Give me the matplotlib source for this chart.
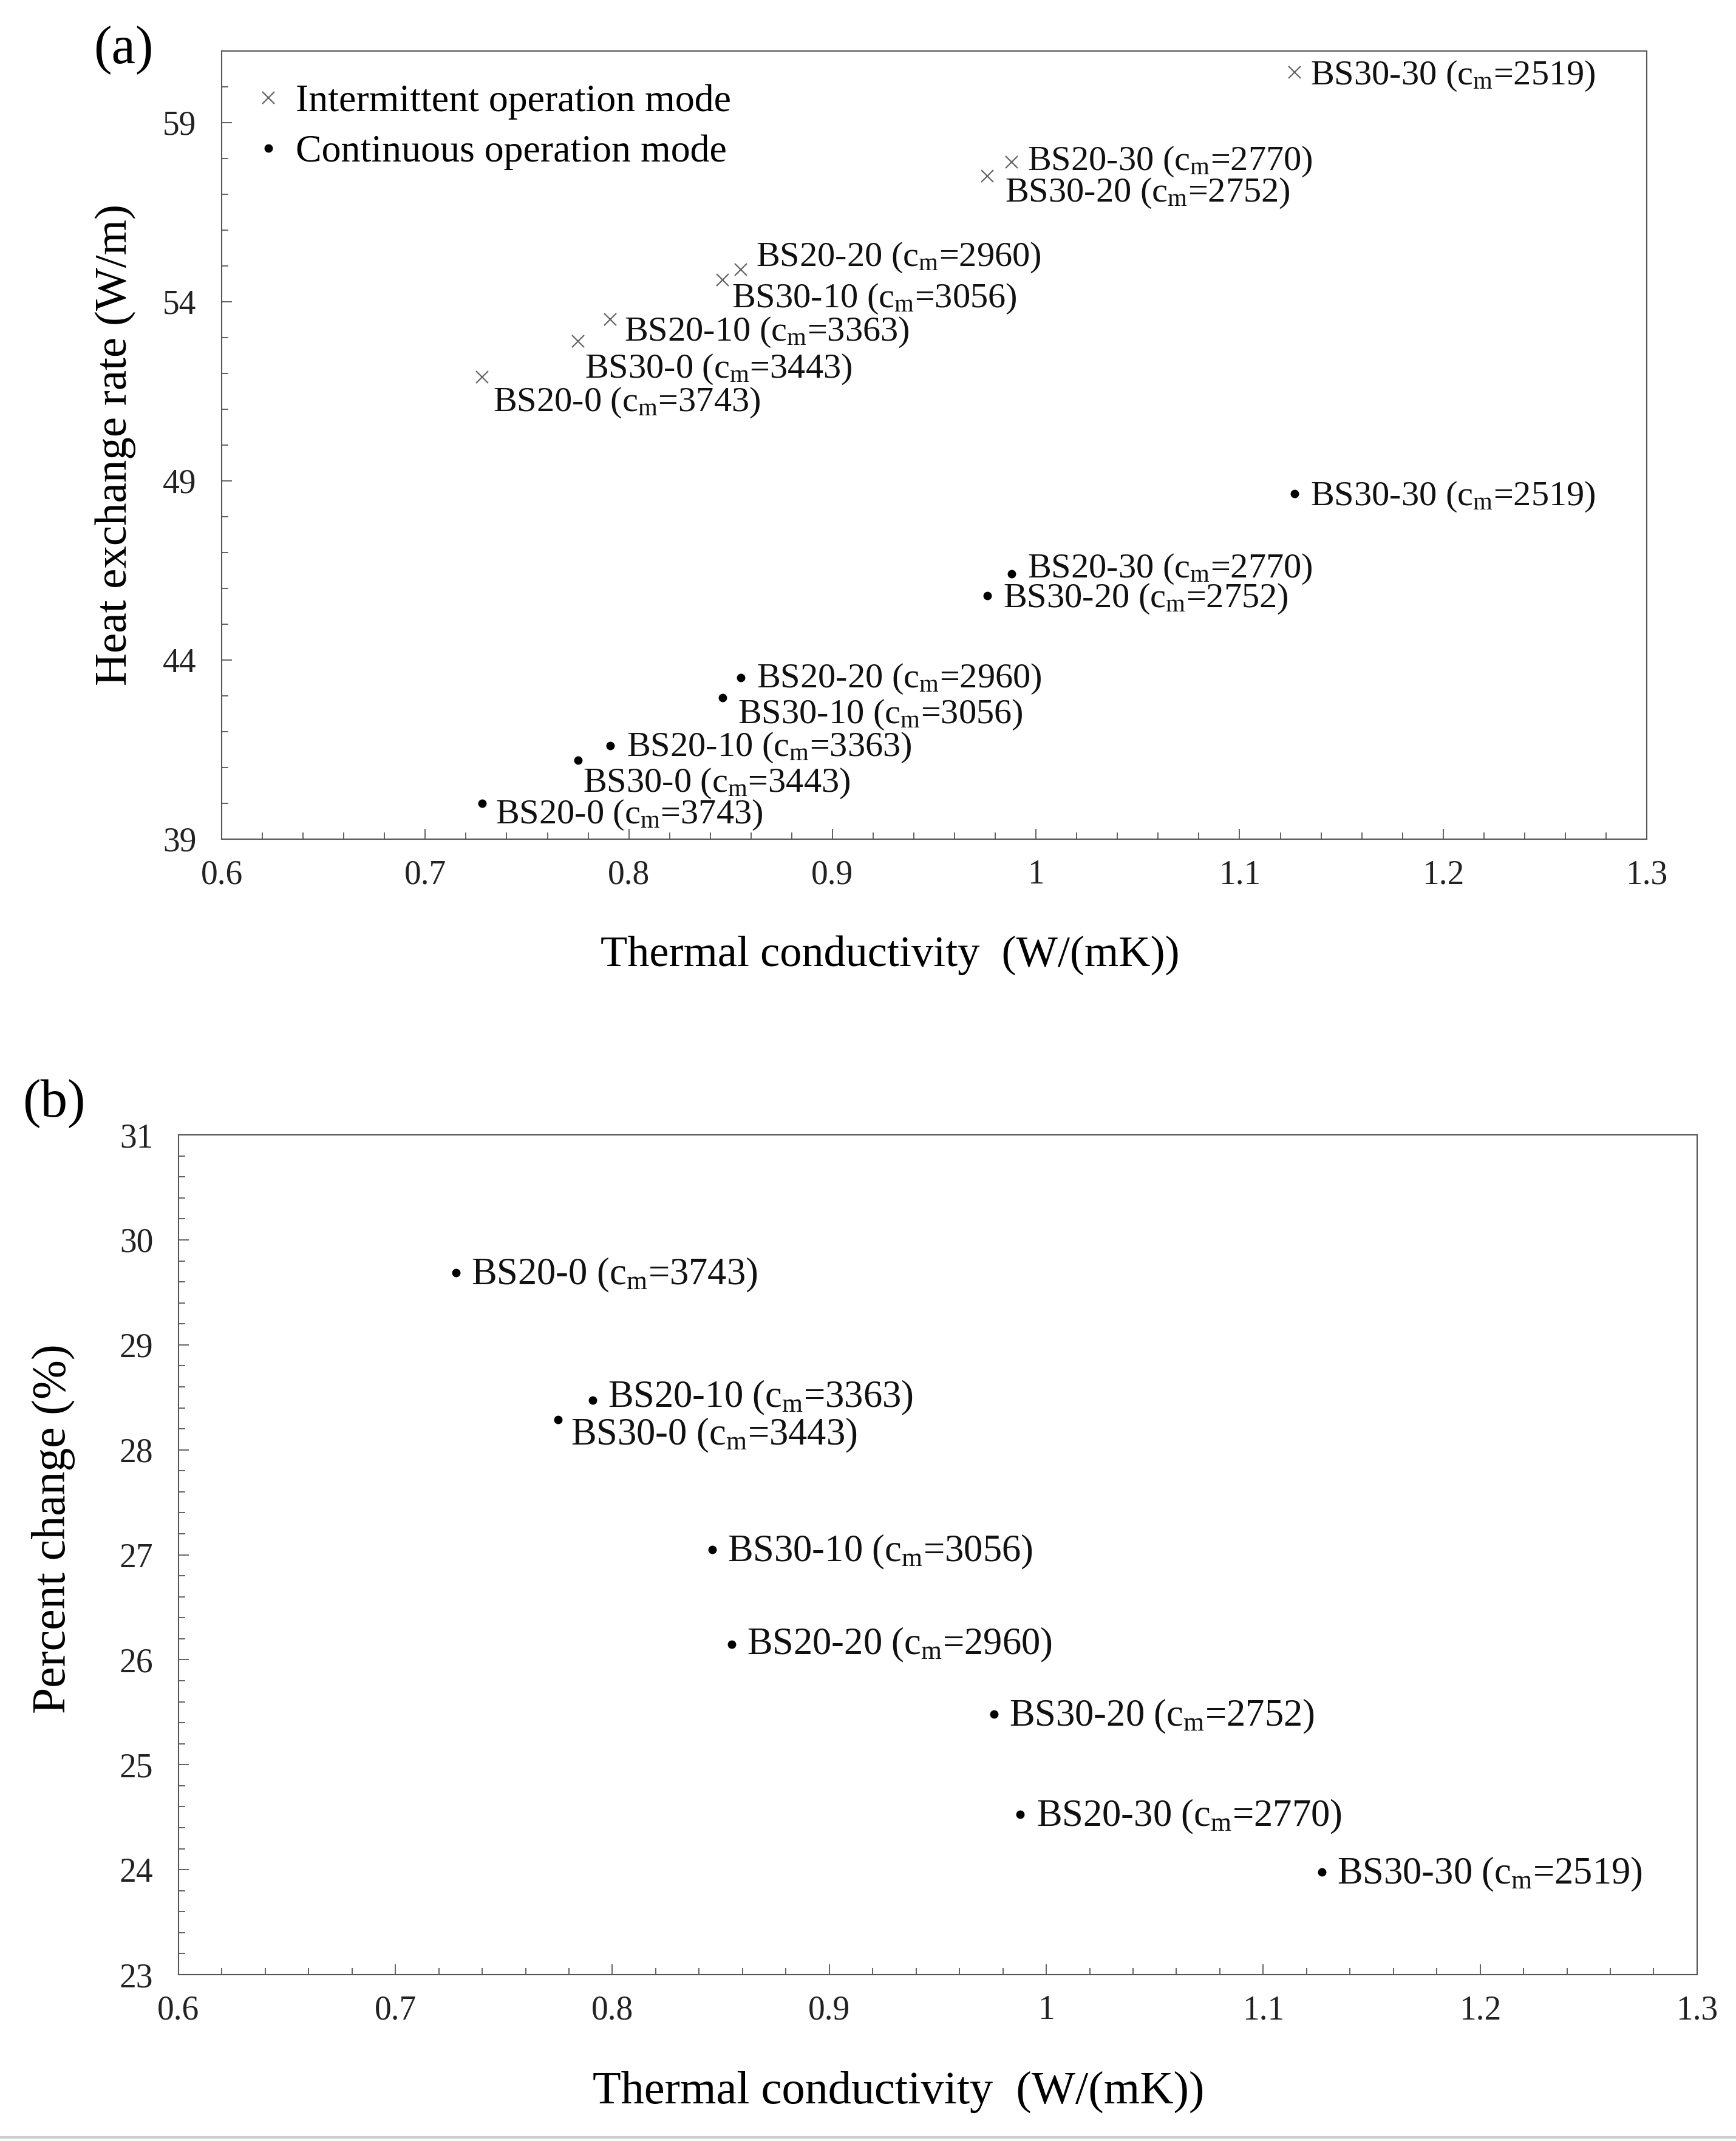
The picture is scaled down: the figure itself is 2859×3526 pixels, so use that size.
import matplotlib
matplotlib.use("Agg")
import matplotlib.pyplot as plt
from matplotlib.ticker import MultipleLocator, FuncFormatter
from matplotlib.lines import Line2D

plt.rcParams['font.family'] = ['Liberation Serif', 'DejaVu Serif']
plt.rcParams['mathtext.fontset'] = 'custom'
plt.rcParams['mathtext.rm'] = 'Liberation Serif'
plt.rcParams['mathtext.it'] = 'Liberation Serif:italic'

# data
names = ["BS20-0", "BS30-0", "BS20-10", "BS30-10", "BS20-20", "BS30-20", "BS20-30", "BS30-30"]
cm = [3743, 3443, 3363, 3056, 2960, 2752, 2770, 2519]
k = [0.728, 0.775, 0.791, 0.846, 0.855, 0.976, 0.988, 1.127]
q_int = [51.9, 52.9, 53.5, 54.6, 54.9, 57.5, 57.9, 60.4]
q_cont = [40.0, 41.2, 41.6, 42.95, 43.5, 45.8, 46.4, 48.65]
pct = [29.69, 28.29, 28.47, 27.05, 26.15, 25.48, 24.53, 23.98]

# label offsets (points) for each point, layout only
off_int = [(13, -26), (8, -29), (16, -11), (11, -18), (18, 18), (21, -16), (19, 5), (19, 0)]
off_cont = [(16, -10), (6, -23), (19, 2), (18, -16), (19, 3), (19, 0), (19, 10), (19, 0)]
off_pct = [(18, 0), (15, -16), (18, 6), (18, 0), (18, 2), (18, 0), (19, 0), (18, 0)]

TICK = 40
SPINE = '#555555'


def label(i):
    return names[i] + " (c$_{\\rm m}$=" + str(cm[i]) + ")"


def style_axes(ax, ymajor, yminor):
    ax.set_xlim(0.6, 1.3)
    ax.xaxis.set_major_locator(MultipleLocator(0.1))
    ax.xaxis.set_minor_locator(MultipleLocator(0.02))
    ax.yaxis.set_major_locator(MultipleLocator(ymajor))
    ax.yaxis.set_minor_locator(MultipleLocator(yminor))
    ax.xaxis.set_major_formatter(FuncFormatter(lambda v, p: "%g" % round(v, 2)))
    ax.yaxis.set_major_formatter(FuncFormatter(lambda v, p: "%g" % round(v, 2)))
    ax.tick_params(which='both', direction='in', top=False, right=False,
                   color=SPINE, width=1.3, labelsize=TICK, labelcolor='#222222')
    ax.tick_params(which='major', length=12)
    ax.tick_params(which='minor', length=8)
    ax.tick_params(axis='x', which='both', pad=24)
    ax.tick_params(axis='y', which='both', pad=30)
    for s in ax.spines.values():
        s.set_color(SPINE)
        s.set_linewidth(1.5)


def annotate(ax, xs, ys, offs, size):
    for i in range(len(xs)):
        dx, dy = offs[i]
        ax.annotate(label(i), (xs[i], ys[i]), xytext=(dx, dy - 14),
                    textcoords='offset points', ha='left', va='baseline',
                    fontsize=size, color='#111111')


fig = plt.figure(figsize=(28.59, 35.26), dpi=100)

# (a) heat exchange rate
ax1 = fig.add_axes([0.1277, 0.6081, 0.8209, 0.3681])
ax1.plot(k, q_int, 'x', color='#666666', ms=15, mew=1.6, linestyle='none',
         label='Intermittent operation mode')
ax1.plot(k, q_cont, 'o', color='black', ms=9, linestyle='none',
         label='Continuous operation mode')
ax1.set_ylim(39, 61)
style_axes(ax1, 5, 1)
ax1.set_yticks([39, 44, 49, 54, 59])
annotate(ax1, k, q_int, off_int, 42)
annotate(ax1, k, q_cont, off_cont, 42)
ax1.legend(loc='upper left', frameon=False, fontsize=46, handlelength=0.7,
           handletextpad=0.36, labelspacing=0.38, borderaxespad=0.45,
           borderpad=0.4)
ax1.set_xlabel('Thermal conductivity  (W/(mK))', fontsize=52)
ax1.xaxis.set_label_coords(0.469, -0.122)
ax1.set_ylabel('Heat exchange rate (W/m)', fontsize=54)
ax1.yaxis.set_label_coords(-0.060, 0.50)

# (b) percent change
ax2 = fig.add_axes([0.1028, 0.0777, 0.8748, 0.3922])
ax2.plot(k, pct, 'o', color='black', ms=9, linestyle='none')
ax2.set_ylim(23, 31)
style_axes(ax2, 1, 0.2)
annotate(ax2, k, pct, off_pct, 45)
ax2.set_xlabel('Thermal conductivity  (W/(mK))', fontsize=55)
ax2.xaxis.set_label_coords(0.474, -0.115)
ax2.set_ylabel('Percent change (%)', fontsize=56)
ax2.yaxis.set_label_coords(-0.068, 0.531)

fig.text(0.071, 0.9767, '(a)', fontsize=64, ha='center', va='center')
fig.text(0.0311, 0.4844, '(b)', fontsize=64, ha='center', va='center')

# thin gray rule along the bottom edge of the page
fig.add_artist(Line2D([0, 1], [0.0017, 0.0017], transform=fig.transFigure,
                      color='#cccccc', lw=3))

fig.savefig('out.png', dpi=100)
